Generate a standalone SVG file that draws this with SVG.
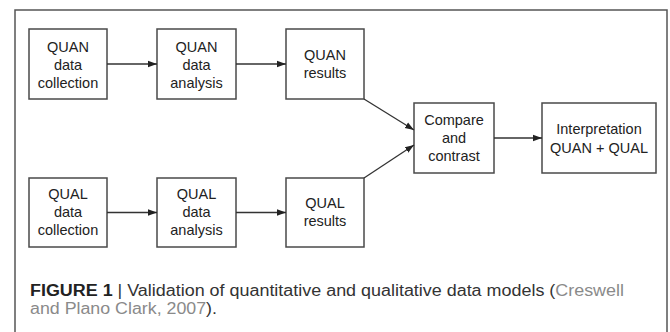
<svg xmlns="http://www.w3.org/2000/svg" width="670" height="332" viewBox="0 0 670 332">
  <style>
    .box { fill: #ffffff; stroke: #4a4a4a; stroke-width: 1.5; }
    .lbl { font-family: "Liberation Sans", Arial, sans-serif; font-size: 14.5px; fill: #222; text-anchor: middle; }
    .con { stroke: #333; stroke-width: 1.3; fill: none; marker-end: url(#arr); }
    .cap { font-family: "Liberation Sans", Arial, sans-serif; font-size: 16px; fill: #333; }
    .link { fill: #8a8a8a; }
  </style>
  <defs>
    <marker id="arr" markerUnits="userSpaceOnUse" markerWidth="10" markerHeight="8" refX="9" refY="4" orient="auto">
      <path d="M0,0.8 L9,4 L0,7.2 Z" fill="#222"/>
    </marker>
  </defs>
  <rect x="0" y="0" width="670" height="332" fill="#ffffff"/>
  <path d="M15,332 L15,10 L667,10 L667,332" fill="none" stroke="#555" stroke-width="1.5"/>

  <g id="quan-collection">
    <rect class="box" x="29" y="29" width="78" height="70"/>
    <text class="lbl" x="68" y="52">QUAN</text>
    <text class="lbl" x="68" y="70">data</text>
    <text class="lbl" x="68" y="88">collection</text>
  </g>
  <g id="quan-analysis">
    <rect class="box" x="157" y="29" width="79" height="70"/>
    <text class="lbl" x="196.5" y="52">QUAN</text>
    <text class="lbl" x="196.5" y="70">data</text>
    <text class="lbl" x="196.5" y="88">analysis</text>
  </g>
  <g id="quan-results">
    <rect class="box" x="286" y="29" width="78" height="70"/>
    <text class="lbl" x="325" y="60">QUAN</text>
    <text class="lbl" x="325" y="78">results</text>
  </g>
  <g id="qual-collection">
    <rect class="box" x="29" y="178" width="78" height="69"/>
    <text class="lbl" x="68" y="199">QUAL</text>
    <text class="lbl" x="68" y="217">data</text>
    <text class="lbl" x="68" y="235">collection</text>
  </g>
  <g id="qual-analysis">
    <rect class="box" x="157" y="178" width="79" height="69"/>
    <text class="lbl" x="196.5" y="199">QUAL</text>
    <text class="lbl" x="196.5" y="217">data</text>
    <text class="lbl" x="196.5" y="235">analysis</text>
  </g>
  <g id="qual-results">
    <rect class="box" x="286" y="178" width="78" height="69"/>
    <text class="lbl" x="325" y="208">QUAL</text>
    <text class="lbl" x="325" y="226">results</text>
  </g>
  <g id="compare">
    <rect class="box" x="414" y="103" width="80" height="70"/>
    <text class="lbl" x="454" y="125">Compare</text>
    <text class="lbl" x="454" y="143">and</text>
    <text class="lbl" x="454" y="161">contrast</text>
  </g>
  <g id="interpretation">
    <rect class="box" x="542" y="103" width="114" height="70"/>
    <text class="lbl" x="599" y="134">Interpretation</text>
    <text class="lbl" x="599" y="153">QUAN + QUAL</text>
  </g>

  <g id="connectors">
    <line class="con" x1="107" y1="64" x2="157" y2="64"/>
    <line class="con" x1="236" y1="64" x2="286" y2="64"/>
    <line class="con" x1="107" y1="212.5" x2="157" y2="212.5"/>
    <line class="con" x1="236" y1="212.5" x2="286" y2="212.5"/>
    <line class="con" x1="364" y1="99" x2="414" y2="130"/>
    <line class="con" x1="364" y1="178" x2="414" y2="145"/>
    <line class="con" x1="494" y1="138" x2="542" y2="138"/>
  </g>

  <g id="caption">
    <text class="cap" x="30" y="296" textLength="594" lengthAdjust="spacingAndGlyphs"><tspan font-weight="bold" fill="#222">FIGURE 1</tspan> | Validation of quantitative and qualitative data models (<tspan class="link">Creswell</tspan></text>
    <text class="cap" x="30" y="314" textLength="187" lengthAdjust="spacingAndGlyphs"><tspan class="link">and Plano Clark, 2007</tspan>).</text>
  </g>
</svg>
